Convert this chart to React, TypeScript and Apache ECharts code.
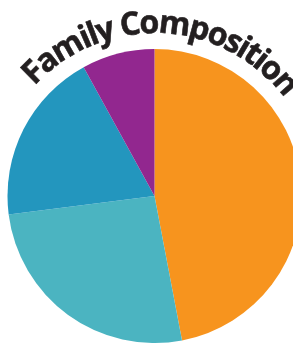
import React, { useEffect, useRef } from "react";
import * as echarts from "echarts";

const categories = ["Segment A", "Segment B", "Segment C", "Segment D"];
const values = [47, 26, 19, 8];
const colors = ["#F7941E", "#4BB4C1", "#2396BE", "#92278F"];
const titleText = "Family Composition";

export default function App() {
  const ref = useRef<HTMLDivElement>(null);
  useEffect(() => {
    if (!ref.current) return;
    const chart = echarts.init(ref.current, undefined, { renderer: "svg" });

    const fontSize = 32;
    const fontFamily = '"Open Sans", sans-serif';
    const font = `bold ${fontSize}px ${fontFamily}`;
    const canvas = document.createElement("canvas");
    const ctx = canvas.getContext("2d")!;
    ctx.font = font;
    const chars = titleText.split("");
    const widths = chars.map((c) => ctx.measureText(c).width);
    const total = widths.reduce((a, b) => a + b, 0);

    const cx = 154.5;
    const cy = 196;
    const R = 163; // baseline radius
    const a0 = (-47.5 * Math.PI) / 180;
    const a1 = (53 * Math.PI) / 180;
    const arcLen = (a1 - a0) * R;
    const spacing = (arcLen - total) / (chars.length - 1);
    const midR = R + fontSize * 0.388;

    const graphics: any[] = [];
    let acc = 0;
    chars.forEach((c, i) => {
      const w = widths[i];
      const s = acc + w / 2;
      const th = a0 + s / R;
      acc += w + spacing;
      if (c === " ") return;
      graphics.push({
        type: "text",
        x: cx + midR * Math.sin(th),
        y: cy - midR * Math.cos(th),
        rotation: -th,
        style: {
          text: c,
          font,
          fill: "#231F20",
          stroke: "#231F20",
          lineWidth: 0.6,
          align: "center",
          verticalAlign: "middle",
        },
      });
    });

    chart.setOption({
      animation: false,
      graphic: graphics,
      series: [
        {
          type: "pie",
          center: [154.5, 196],
          radius: 147,
          startAngle: 90,
          clockwise: true,
          label: { show: false },
          labelLine: { show: false },
          emphasis: { disabled: true },
          itemStyle: { borderWidth: 0 },
          data: categories.map((name, i) => ({
            name,
            value: values[i],
            itemStyle: { color: colors[i] },
          })),
        },
      ],
    });
    return () => chart.dispose();
  }, []);
  return (
    <div
      ref={ref}
      style={{ position: "fixed", left: 0, top: 0, width: 293, height: 343 }}
    />
  );
}
